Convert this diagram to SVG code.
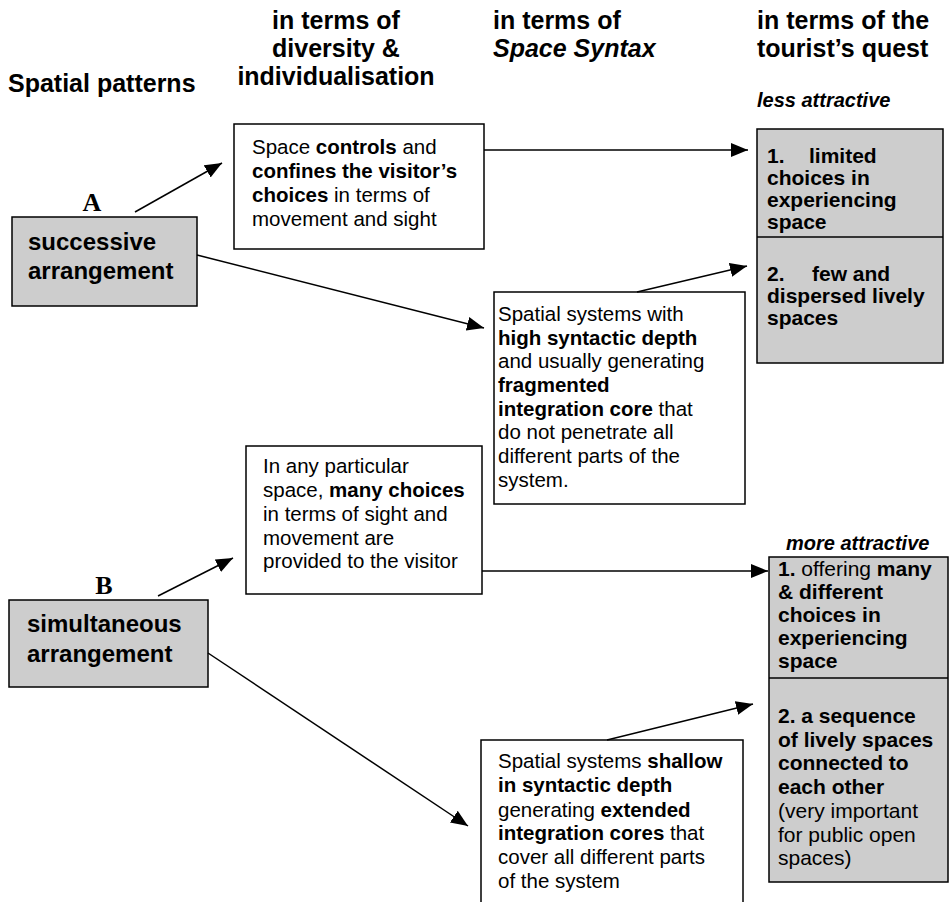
<svg xmlns="http://www.w3.org/2000/svg" width="952" height="902" viewBox="0 0 952 902">
<style>
text{font-family:"Liberation Sans",Arial,sans-serif;fill:#000}
.h{font-size:25px;font-weight:bold}
.hi{font-size:25px;font-weight:bold;font-style:italic}
.sub{font-size:20px;font-weight:bold;font-style:italic}
.big{font-size:24px;font-weight:bold}
.lbl{font-family:"Liberation Serif","Times New Roman",serif;font-size:26px;font-weight:bold}
.t{font-size:20.5px}
.r{font-size:21px;font-weight:bold}
.rn{font-weight:normal}
.b{font-weight:bold}
.box{fill:#fff;stroke:#000;stroke-width:1.5}
.gbox{fill:#cdcdcd;stroke:#000;stroke-width:1.5}
.c line{stroke:#000;stroke-width:1.5;marker-end:url(#ah)}
</style>
<defs>
<marker id="ah" markerUnits="userSpaceOnUse" markerWidth="18" markerHeight="14" refX="17" refY="7" orient="auto">
<path d="M0,0 L17,7 L0,14 Z" fill="#000"/>
</marker>
</defs>

<g id="headers">
<text class="h" x="8" y="92">Spatial patterns</text>
<text class="h" x="336" y="29" text-anchor="middle">in terms of</text>
<text class="h" x="336" y="57" text-anchor="middle">diversity &amp;</text>
<text class="h" x="336" y="85" text-anchor="middle">individualisation</text>
<text class="h" x="493" y="29">in terms of</text>
<text class="hi" x="493" y="57">Space Syntax</text>
<text class="h" x="757" y="29">in terms of the</text>
<text class="h" x="757" y="57">tourist’s quest</text>
<text class="sub" x="757" y="107">less attractive</text>
<text class="sub" x="786" y="550">more attractive</text>
</g>

<g id="nodeA">
<text class="lbl" x="92" y="211" text-anchor="middle">A</text>
<rect class="gbox" x="12" y="217" width="185" height="89"/>
<text class="big" x="28" y="250">successive</text>
<text class="big" x="28" y="279">arrangement</text>
</g>

<g id="nodeB">
<text class="lbl" x="104" y="594" text-anchor="middle">B</text>
<rect class="gbox" x="9" y="600" width="199" height="87"/>
<text class="big" x="27" y="632">simultaneous</text>
<text class="big" x="27" y="662">arrangement</text>
</g>

<g id="box1">
<rect class="box" x="234" y="124" width="250" height="125"/>
<text class="t" x="252" y="154">Space <tspan class="b">controls</tspan> and</text>
<text class="t" x="252" y="178"><tspan class="b">confines the visitor’s</tspan></text>
<text class="t" x="252" y="202"><tspan class="b">choices</tspan> in terms of</text>
<text class="t" x="252" y="226">movement and sight</text>
</g>

<g id="box2">
<rect class="box" x="494" y="292" width="251" height="212"/>
<text class="t" x="498" y="321">Spatial systems with</text>
<text class="t b" x="498" y="344.5">high syntactic depth</text>
<text class="t" x="498" y="368">and usually generating</text>
<text class="t b" x="498" y="392">fragmented</text>
<text class="t" x="498" y="416"><tspan class="b">integration core</tspan> that</text>
<text class="t" x="498" y="439">do not penetrate all</text>
<text class="t" x="498" y="463">different parts of the</text>
<text class="t" x="498" y="487">system.</text>
</g>

<g id="box3">
<rect class="box" x="246" y="446" width="236" height="148"/>
<text class="t" x="263" y="473">In any particular</text>
<text class="t" x="263" y="497">space, <tspan class="b">many choices</tspan></text>
<text class="t" x="263" y="521">in terms of sight and</text>
<text class="t" x="263" y="545">movement are</text>
<text class="t" x="263" y="568">provided to the visitor</text>
</g>

<g id="box4">
<rect class="box" x="481" y="740" width="262" height="175"/>
<text class="t" x="498" y="768">Spatial systems <tspan class="b">shallow</tspan></text>
<text class="t b" x="498" y="792">in syntactic depth</text>
<text class="t" x="498" y="817">generating <tspan class="b">extended</tspan></text>
<text class="t" x="498" y="840"><tspan class="b">integration cores</tspan> that</text>
<text class="t" x="498" y="864">cover all different parts</text>
<text class="t" x="498" y="888">of the system</text>
</g>

<g id="lessAttractive">
<rect class="gbox" x="757" y="129" width="186" height="234"/>
<line x1="757" y1="237" x2="943" y2="237" stroke="#000" stroke-width="1.5"/>
<text class="r" x="767" y="163">1.</text><text class="r" x="809" y="163">limited</text>
<text class="r" x="767" y="185">choices in</text>
<text class="r" x="767" y="207">experiencing</text>
<text class="r" x="767" y="229">space</text>
<text class="r" x="767" y="281">2.</text><text class="r" x="812" y="281">few and</text>
<text class="r" x="767" y="303">dispersed lively</text>
<text class="r" x="767" y="325">spaces</text>
</g>

<g id="moreAttractive">
<rect class="gbox" x="769" y="557" width="179" height="325"/>
<line x1="769" y1="678" x2="948" y2="678" stroke="#000" stroke-width="1.5"/>
<text class="r" x="778" y="576">1. <tspan class="rn">offering</tspan> many</text>
<text class="r" x="778" y="599">&amp; different</text>
<text class="r" x="778" y="622">choices in</text>
<text class="r" x="778" y="645">experiencing</text>
<text class="r" x="778" y="668">space</text>
<text class="r" x="778" y="723">2. a sequence</text>
<text class="r" x="778" y="746.7">of lively spaces</text>
<text class="r" x="778" y="770.4">connected to</text>
<text class="r" x="778" y="794">each other</text>
<text class="r rn" x="778" y="817.8">(very important</text>
<text class="r rn" x="778" y="841.5">for public open</text>
<text class="r rn" x="778" y="865">spaces)</text>
</g>

<g id="connectors" class="c">
<line x1="135" y1="212" x2="222" y2="163"/>
<line x1="197" y1="255" x2="484" y2="328"/>
<line x1="484" y1="150" x2="748" y2="150"/>
<line x1="637" y1="292" x2="747" y2="266"/>
<line x1="158" y1="596" x2="233" y2="558"/>
<line x1="208" y1="653" x2="468" y2="826"/>
<line x1="482" y1="571" x2="768" y2="571"/>
<line x1="607" y1="740" x2="753" y2="704"/>
</g>
</svg>
